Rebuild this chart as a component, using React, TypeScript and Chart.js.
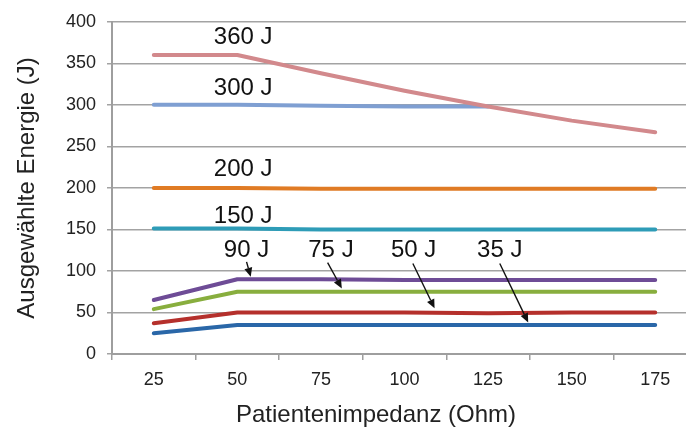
import React, { useEffect, useRef } from "react";
import { Chart, registerables } from "chart.js";

Chart.register(...registerables);

const impedance = ["25", "50", "75", "100", "125", "150", "175"];

const e360 = [360, 360, 338, 317, 298, 281, 267];
const e300 = [300, 300, 299, 298, 298, null, null];
const e200 = [200, 200, 199, 199, 199, 199, 199];
const e150 = [151, 151, 150, 150, 150, 150, 150];
const e90 = [65, 90, 90, 89, 89, 89, 89];
const e75 = [54, 75, 75, 75, 75, 75, 75];
const e50 = [37, 50, 50, 50, 49, 50, 50];
const e35 = [25, 35, 35, 35, 35, 35, 35];

const seriesLabels = ["360 J", "300 J", "200 J", "150 J", "90 J", "75 J", "50 J", "35 J"];
const seriesColors = ["#D2898C", "#7F9FD2", "#E07B24", "#2E9CB7", "#6E4C96", "#88AE3E", "#B5302C", "#2A67A8"];

// label anchors in data space: [category index, energy]
const labelX = [1.07, 1.07, 1.07, 1.07, 1.11, 2.12, 3.11, 4.14];
const labelY = [381, 320, 222, 166, 125, 125, 125, 125];

// arrows from label to line, in data space
const arrowFromX = [1.11, 2.08, 3.1, 4.14];
const arrowFromY = [111, 110, 109, 109];
const arrowToX = [1.16, 2.25, 3.36, 4.48];
const arrowToY = [93, 79, 55, 38];

const FONT = '"Liberation Sans", Arial, Helvetica, sans-serif';

const annotations = {
  id: "energyAnnotations",
  afterDatasetsDraw(chart: any) {
    const { ctx, scales, chartArea } = chart;
    const xs = scales.x;
    const ys = scales.y;
    const px = (i: number) => {
      const a = xs.getPixelForValue(Math.floor(i));
      const b = xs.getPixelForValue(Math.floor(i) + 1);
      return a + (b - a) * (i - Math.floor(i));
    };
    ctx.save();
    ctx.fillStyle = "#111";
    ctx.font = `24px ${FONT}`;
    ctx.textAlign = "center";
    ctx.textBaseline = "middle";
    seriesLabels.forEach((t, k) => {
      ctx.fillText(t, px(labelX[k]), ys.getPixelForValue(labelY[k]));
    });

    ctx.strokeStyle = "#111";
    ctx.lineWidth = 1.4;
    for (let k = 0; k < arrowFromX.length; k++) {
      const x0 = px(arrowFromX[k]);
      const y0 = ys.getPixelForValue(arrowFromY[k]);
      const x1 = px(arrowToX[k]);
      const y1 = ys.getPixelForValue(arrowToY[k]);
      const ang = Math.atan2(y1 - y0, x1 - x0);
      const len = 9;
      const hw = 4;
      const bx = x1 - len * Math.cos(ang);
      const by = y1 - len * Math.sin(ang);
      ctx.beginPath();
      ctx.moveTo(x0, y0);
      ctx.lineTo(bx, by);
      ctx.stroke();
      ctx.beginPath();
      ctx.moveTo(x1, y1);
      ctx.lineTo(bx + hw * Math.sin(ang), by - hw * Math.cos(ang));
      ctx.lineTo(bx - hw * Math.sin(ang), by + hw * Math.cos(ang));
      ctx.closePath();
      ctx.fill();
    }

    // axis titles
    ctx.fillStyle = "#222";
    ctx.font = `24px ${FONT}`;
    ctx.fillText("Patientenimpedanz (Ohm)", chartArea.left + 264, chartArea.bottom + 61);
    ctx.translate(27, (chartArea.top + chartArea.bottom) / 2);
    ctx.rotate(-Math.PI / 2);
    ctx.fillText("Ausgewählte Energie (J)", 0, 0);
    ctx.restore();
  },
};

export default function App() {
  const ref = useRef<HTMLCanvasElement | null>(null);

  useEffect(() => {
    document.body.style.margin = "0";
    const canvas = ref.current;
    if (!canvas) return;
    const values = [e360, e300, e200, e150, e90, e75, e50, e35];
    const chart = new Chart(canvas, {
      type: "line",
      data: {
        labels: impedance,
        datasets: values.map((v, k) => ({
          label: seriesLabels[k],
          data: v,
          borderColor: seriesColors[k],
          backgroundColor: seriesColors[k],
          borderWidth: 4,
          borderCapStyle: "round" as const,
          borderJoinStyle: "round" as const,
          pointRadius: 0,
          tension: 0,
          fill: false,
          spanGaps: false,
        })),
      },
      options: {
        responsive: false,
        animation: false,
        devicePixelRatio: 1,
        layout: { padding: { top: 18, right: 23, left: 0, bottom: 0 } },
        plugins: { legend: { display: false }, tooltip: { enabled: false } },
        scales: {
          x: {
            type: "category",
            offset: true,
            grid: {
              display: true,
              offset: true,
              drawOnChartArea: false,
              drawTicks: true,
              tickLength: 6,
              color: "#9E9E9E",
              lineWidth: 1.5,
            },
            border: { color: "#9E9E9E", width: 2 },
            ticks: {
              color: "#222",
              font: { family: FONT, size: 18 },
              padding: 9,
              maxRotation: 0,
            },
            afterFit(scale: any) {
              scale.height = 76;
            },
          },
          y: {
            min: 0,
            max: 400,
            ticks: {
              stepSize: 50,
              color: "#222",
              font: { family: FONT, size: 18 },
              padding: 11,
            },
            grid: {
              color: "#A3A3A3",
              lineWidth: 1.5,
              tickLength: 5,
            },
            border: { color: "#9E9E9E", width: 2 },
            afterFit(scale: any) {
              scale.width = 112;
            },
          },
        },
      },
      plugins: [annotations],
    });
    return () => chart.destroy();
  }, []);

  return (
    <div
      style={{
        position: "absolute",
        left: 0,
        top: 0,
        width: 686,
        height: 430,
        overflow: "hidden",
        background: "#fff",
      }}
    >
      <canvas ref={ref} width={720} height={430} style={{ width: 720, height: 430, display: "block" }} />
    </div>
  );
}
